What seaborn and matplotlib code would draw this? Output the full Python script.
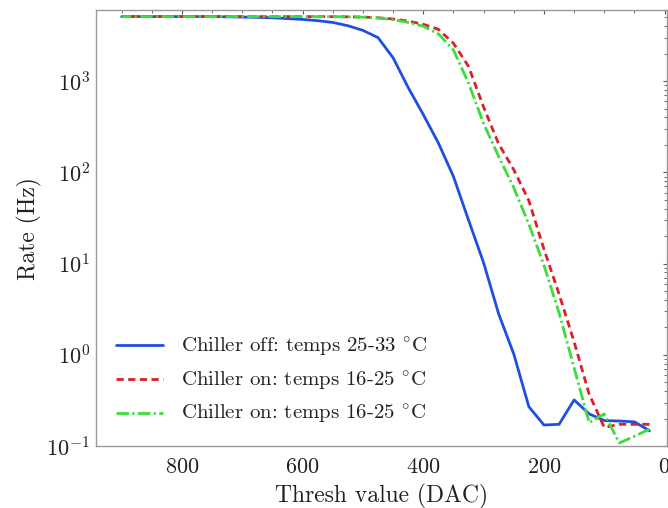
import numpy as np
import pandas as pd
import matplotlib
matplotlib.use("Agg")
import matplotlib.pyplot as plt
from matplotlib.ticker import MultipleLocator, LogLocator, NullFormatter
import seaborn as sns

thresh = [900, 875, 850, 825, 800, 775, 750, 725, 700, 675, 650, 625, 600, 575,
          550, 525, 500, 475, 450, 425, 400, 375, 350, 325, 300, 275, 250, 225,
          200, 175, 150, 125, 100, 75, 50, 25]

rate_off = [5100, 5100, 5100, 5100, 5100, 5100, 5090, 5070, 5040, 5000, 4950, 4850,
            4750, 4600, 4400, 4050, 3600, 3000, 1800, 850, 430, 210, 90, 30,
            10.2, 2.8, 1.02, 0.27, 0.17, 0.173, 0.32, 0.225, 0.19, 0.188, 0.184, 0.147]

rate_on1 = [5100, 5100, 5100, 5100, 5100, 5100, 5100, 5100, 5100, 5100, 5100, 5100,
            5100, 5100, 5090, 5070, 5040, 4950, 4800, 4550, 4200, 3700, 2600, 1450,
            520, 205, 107, 49, 14.4, 4.65, 1.39, 0.37, 0.16, 0.173, 0.173, 0.173]

rate_on2 = [5100, 5100, 5100, 5100, 5100, 5100, 5100, 5100, 5100, 5100, 5100, 5100,
            5100, 5100, 5090, 5070, 5030, 4920, 4720, 4400, 4000, 3300, 2200, 950,
            343, 149, 68, 27, 9.6, 2.9, 0.72, 0.18, 0.225, 0.108, 0.128, 0.153]

labels = ["Chiller off: temps 25-33 $^{\\circ}$C",
          "Chiller on: temps 16-25 $^{\\circ}$C",
          "Chiller on: temps 16-25 $^{\\circ}$C"]

sns.set_theme(style="white")
plt.rcParams["font.family"] = ["cmr10", "DejaVu Serif"]
plt.rcParams["mathtext.fontset"] = "cm"
plt.rcParams["axes.unicode_minus"] = False
plt.rcParams["axes.formatter.use_mathtext"] = True

fig = plt.figure(figsize=(6.68, 5.08), dpi=100)
ax = fig.add_axes([0.1433, 0.122, 0.8552, 0.858])

colors = ["#1f4fe0", "#dc1f2a", "#3ddc3d"]
styles = [(None), (0, (2.6, 1.6)), (0, (4.5, 1.2, 0.8, 1.2))]

for vals, lab, col, ls in zip([rate_off, rate_on1, rate_on2], labels, colors, styles):
    df = pd.DataFrame({"thresh": thresh, "rate": vals})
    kw = dict(linestyle="-") if ls is None else dict(linestyle=ls)
    sns.lineplot(data=df, x="thresh", y="rate", ax=ax, color=col, lw=2.0,
                 label=lab, **kw)

ax.set_yscale("log")
ax.set_xlim(943, -4)
ax.set_ylim(0.1, 6000)

ax.xaxis.set_major_locator(MultipleLocator(200))
ax.xaxis.set_minor_locator(MultipleLocator(50))
ax.yaxis.set_major_locator(LogLocator(base=10, numticks=10))
ax.yaxis.set_minor_locator(LogLocator(base=10, subs=np.arange(2, 10), numticks=20))
ax.yaxis.set_minor_formatter(NullFormatter())

ax.tick_params(which="both", direction="in", top=True, right=True,
               colors="#555555", labelcolor="#222222", labelsize=16)
ax.tick_params(which="major", length=3, width=0.8)
ax.tick_params(axis="x", which="major", pad=8)
ax.tick_params(axis="y", which="major", pad=4)
ax.tick_params(which="minor", length=2, width=0.6)
for s in ax.spines.values():
    s.set_color("#999999")
    s.set_linewidth(1.0)

ax.set_xlabel("Thresh value (DAC)", fontsize=17, color="#222222", labelpad=5)
ax.set_ylabel("Rate (Hz)", fontsize=17, color="#222222", labelpad=3)

leg = ax.legend(loc="lower left", bbox_to_anchor=(0.035, 0.045), frameon=False,
                fontsize=15, handlelength=2.25, handletextpad=0.9,
                labelspacing=0.5, borderaxespad=0.0, borderpad=0.0)
for t in leg.get_texts():
    t.set_color("#222222")

fig.savefig("out.png", dpi=100)
